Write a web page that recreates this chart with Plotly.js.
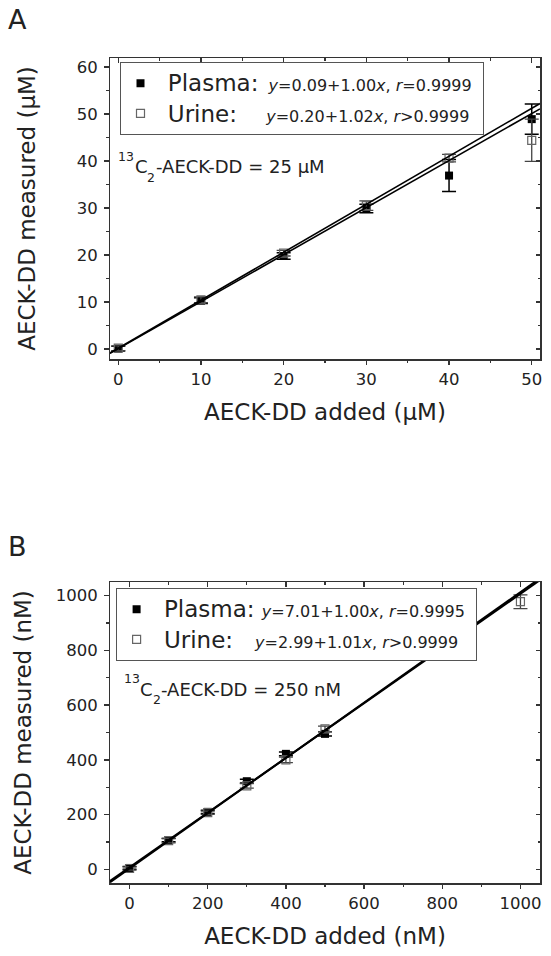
<!DOCTYPE html>
<html>
<head>
<meta charset="utf-8">
<script src="https://cdn.plot.ly/plotly-3.0.1.min.js"></script>
<style>html,body{margin:0;padding:0;background:#fff;}</style>
</head>
<body>
<div id="chart" style="width:551px;height:956px;"></div>
<script>
// ---------- Data: panel A (µM) ----------
const addedA = [0, 10, 20, 30, 40, 50];
const plasmaA = [0.1, 10.3, 19.8, 29.9, 36.9, 48.9];
const plasmaErrA = [0.5, 0.6, 0.7, 0.9, 3.4, 3.2];
const urineA = [0.2, 10.5, 20.4, 30.5, 40.6, 44.4];
const urineErrA = [0.5, 0.6, 0.6, 1.0, 0.8, 4.5];
const fitPlasmaA = {intercept: 0.09, slope: 1.00, r: "=0.9999"};
const fitUrineA = {intercept: 0.20, slope: 1.02, r: "&gt;0.9999"};
const istdA = "25 \u03bcM";

// ---------- Data: panel B (nM) ----------
const addedB = [0, 100, 200, 300, 400, 500, 1000];
const plasmaB = [5, 107, 210, 322, 422, 495, null];
const plasmaErrB = [5, 6, 6, 7, 7, 8, null];
const urineB = [3, 105, 207, 305, 400, 513, 978];
const urineErrB = [6, 8, 6, 8, 10, 10, 25];
const fitPlasmaB = {intercept: 7.01, slope: 1.00, r: "=0.9995"};
const fitUrineB = {intercept: 2.99, slope: 1.01, r: "&gt;0.9999"};
const istdB = "250 nM";

const xRangeA = [-1, 51], yRangeA = [-2.1, 61.9];
const xRangeB = [-50, 1050], yRangeB = [-50, 1050];

const FONT = "DejaVu Sans, Verdana, sans-serif";
const INK = "#222";
const AX = "#333";

// pixel -> paper helpers (plot area: l=110, r=11, t=58, b=73)
const L = 110, R = 11, T = 58, B = 73, W = 551, H = 956;
const pw = W - L - R, ph = H - T - B;
const px = p => (p - L) / pw;
const py = p => (H - B - p) / ph;

function fitLine(fit, range) {
  const xs = [range[0], range[1]];
  return {x: xs, y: xs.map(v => fit.intercept + fit.slope * v)};
}
function eqText(fit) {
  return "<i>y</i>=" + fit.intercept.toFixed(2) + "+" + fit.slope.toFixed(2) +
         "<i>x</i>, <i>r</i>" + fit.r;
}
const nb = n => "\u00a0".repeat(n);
const big = s => "<span style='font-size:23px'>" + s + "</span>";
const small = s => "<span style='font-size:16px'>" + s + "</span>";

function markerTrace(xs, ys, errs, filled, name, xa, ya, legend, group) {
  return {
    type: "scatter", mode: "markers", x: xs, y: ys, name: name,
    xaxis: xa, yaxis: ya, legend: legend, legendgroup: group,
    marker: filled
      ? {symbol: "square", size: 8, color: "#000", line: {width: 0}}
      : {symbol: "square-open", size: 8, color: "#666", line: {width: 1.2, color: "#666"}},
    error_y: {type: "data", array: errs, visible: true,
              color: filled ? "#000" : "#444", thickness: filled ? 1.5 : 1.3, width: 7},
    hoverinfo: "x+y"
  };
}
function lineTrace(fit, range, xa, ya, w) {
  const l = fitLine(fit, range);
  return {type: "scatter", mode: "lines", x: l.x, y: l.y, xaxis: xa, yaxis: ya,
          line: {color: "#000", width: w}, showlegend: false, hoverinfo: "skip"};
}

const data = [
  markerTrace(addedA, plasmaA, plasmaErrA, true,
    big(nb(1) + "Plasma:") + small(nb(2) + eqText(fitPlasmaA) + nb(1)),
    "x", "y", "legend", "pa"),
  markerTrace(addedA, urineA, urineErrA, false,
    big(nb(1) + "Urine:" + nb(4)) + small(eqText(fitUrineA)),
    "x", "y", "legend", "ua"),
  lineTrace(fitPlasmaA, xRangeA, "x", "y", 1.6),
  lineTrace(fitUrineA, xRangeA, "x", "y", 1.6),
  markerTrace(addedB, plasmaB, plasmaErrB, true,
    big(nb(1) + "Plasma:" + nb(1)) + small(eqText(fitPlasmaB) + nb(1)),
    "x2", "y2", "legend2", "pb"),
  markerTrace(addedB, urineB, urineErrB, false,
    big(nb(1) + "Urine:" + nb(3)) + small(eqText(fitUrineB)),
    "x2", "y2", "legend2", "ub"),
  lineTrace(fitPlasmaB, xRangeB, "x2", "y2", 2),
  lineTrace(fitUrineB, xRangeB, "x2", "y2", 2),
  // empty traces that create the overlay axes used for the inner (top/right) ticks
  {type: "scatter", x: [], y: [], xaxis: "x3", yaxis: "y3", showlegend: false, hoverinfo: "skip"},
  {type: "scatter", x: [], y: [], xaxis: "x4", yaxis: "y4", showlegend: false, hoverinfo: "skip"}
];

const tickFont = {family: FONT, size: 16.5, color: INK};
const titleFont = {family: FONT, size: 23, color: INK};

function mainAxis(range, dtick, minor, extra) {
  return Object.assign({
    range: range, autorange: false, dtick: dtick, tick0: 0,
    showline: true, mirror: true, linecolor: AX, linewidth: 1.5,
    ticks: "outside", ticklen: 4.5, tickwidth: 1.5, tickcolor: AX,
    minor: {dtick: minor, ticks: "outside", ticklen: 2.5, tickwidth: 1.2, tickcolor: AX},
    showgrid: false, zeroline: false, tickfont: tickFont, fixedrange: true
  }, extra);
}
function innerAxis(range, dtick, minor, extra) {
  return Object.assign({
    range: range, autorange: false, dtick: dtick, tick0: 0,
    showline: false, ticks: "inside", ticklen: 4.5, tickwidth: 1.5, tickcolor: AX,
    minor: {dtick: minor, ticks: "inside", ticklen: 2.5, tickwidth: 1.2, tickcolor: AX},
    showgrid: false, zeroline: false, showticklabels: false, fixedrange: true
  }, extra);
}

const domA = [py(359), 1];
const domB = [0, py(582)];

const legendStyle = {xanchor: "left", yanchor: "top",
  bgcolor: "#fff", bordercolor: "#555", borderwidth: 1,
  font: {family: FONT, size: 21, color: INK}, traceorder: "grouped", tracegroupgap: 0};

function txt(text, xPx, yPx, size) {
  return {text: text, xref: "paper", yref: "paper", x: px(xPx), y: py(yPx),
          xanchor: "left", yanchor: "middle", showarrow: false,
          borderpad: 0, borderwidth: 0,
          font: {family: FONT, size: size, color: INK}};
}
// "13C2-AECK-DD = ..." label: raised "13", "C", lowered "2", then the rest
function istdLabel(conc, xs, mid) {
  return [
    txt("13", xs[0], mid - 8, 12.5),
    txt("C", xs[1], mid + 3, 18),
    txt("2", xs[2], mid + 13.5, 12.5),
    txt("-AECK-DD = " + conc, xs[3], mid + 3, 18)
  ];
}

const layout = {
  width: W, height: H,
  margin: {l: L, r: R, t: T, b: B},
  paper_bgcolor: "#fff", plot_bgcolor: "#fff",
  font: {family: FONT, color: INK},
  showlegend: true,
  xaxis: mainAxis(xRangeA, 10, 5, {anchor: "y", domain: [0, 1],
    title: {text: "AECK-DD added (\u03bcM)", font: titleFont, standoff: 16}}),
  yaxis: mainAxis(yRangeA, 10, 5, {anchor: "x", domain: domA, ticklabelstandoff: 3,
    title: {text: "AECK-DD measured (\u03bcM)", font: titleFont, standoff: 34}}),
  xaxis2: mainAxis(xRangeB, 200, 100, {anchor: "y2", domain: [0, 1],
    title: {text: "AECK-DD added (nM)", font: titleFont, standoff: 16}}),
  yaxis2: mainAxis(yRangeB, 200, 100, {anchor: "x2", domain: domB, ticklabelstandoff: 3,
    title: {text: "AECK-DD measured (nM)", font: titleFont, standoff: 17}}),
  xaxis3: innerAxis(xRangeA, 10, 5, {overlaying: "x", anchor: "y", side: "top"}),
  yaxis3: innerAxis(yRangeA, 10, 5, {overlaying: "y", anchor: "x", side: "right"}),
  xaxis4: innerAxis(xRangeB, 200, 100, {overlaying: "x2", anchor: "y2", side: "top"}),
  yaxis4: innerAxis(yRangeB, 200, 100, {overlaying: "y2", anchor: "x2", side: "right"}),
  legend: Object.assign({x: px(119.5), y: py(62)}, legendStyle),
  legend2: Object.assign({x: px(115.6), y: py(588)}, legendStyle),
  annotations: [
    txt("A", 8, 20, 27),
    txt("B", 8, 546.5, 27)
  ].concat(istdLabel(istdA, [118.3, 134.6, 147.4, 155.6], 164))
   .concat(istdLabel(istdB, [123.8, 140, 152.8, 161], 686))
};

Plotly.newPlot("chart", data, layout, {displayModeBar: false, staticPlot: true});
</script>
</body>
</html>
